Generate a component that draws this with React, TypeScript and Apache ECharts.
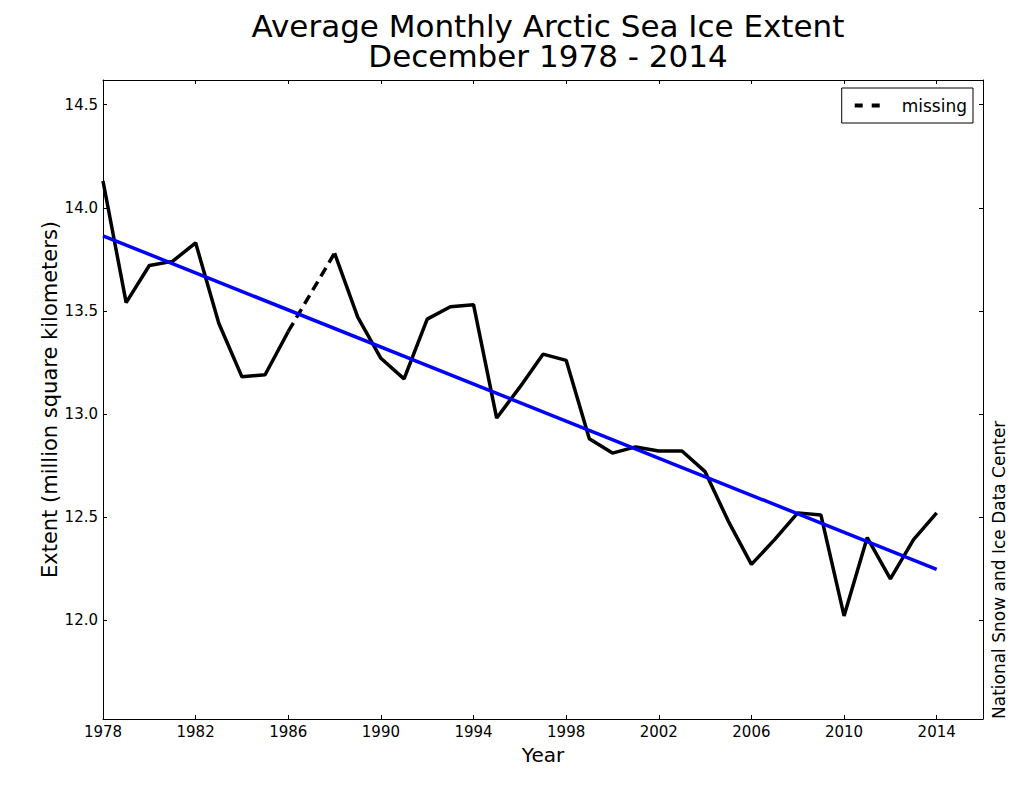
import React, { useEffect, useRef } from "react";
import * as echarts from "echarts";

const years = [
  1978, 1979, 1980, 1981, 1982, 1983, 1984, 1985, 1986, 1987, 1988, 1989, 1990,
  1991, 1992, 1993, 1994, 1995, 1996, 1997, 1998, 1999, 2000, 2001, 2002, 2003,
  2004, 2005, 2006, 2007, 2008, 2009, 2010, 2011, 2012, 2013, 2014,
];
const extent: (number | null)[] = [
  14.13, 13.54, 13.72, 13.74, 13.83, 13.44, 13.18, 13.19, 13.4, null, 13.78,
  13.47, 13.27, 13.17, 13.46, 13.52, 13.53, 12.98, 13.13, 13.29, 13.26, 12.88,
  12.81, 12.84, 12.82, 12.82, 12.72, 12.48, 12.27, 12.39, 12.52, 12.51, 12.02,
  12.4, 12.2, 12.39, 12.52,
];
const missingYears = [1986, 1988];
const trendYears = [1978, 2014];
const trendValues = [13.864, 12.246];
const xTickValues = [1978, 1982, 1986, 1990, 1994, 1998, 2002, 2006, 2010, 2014];
const yTickValues = [12.0, 12.5, 13.0, 13.5, 14.0, 14.5];

const FONT = "DejaVu Sans";

export default function App() {
  const ref = useRef<HTMLDivElement>(null);
  useEffect(() => {
    if (!ref.current) return;
    const chart = echarts.init(ref.current, null, { renderer: "svg" });
    const mainData = years.map((y, i) => [y, extent[i]]);
    const missingData = missingYears.map((y) => [y, extent[years.indexOf(y)]]);
    const trendData = trendYears.map((y, i) => [y, trendValues[i]]);
    const tickStyle = { show: true, inside: true, length: 4, lineStyle: { color: "#000", width: 1 } };
    const lineStyleAxis = { show: true, onZero: false, lineStyle: { color: "#000", width: 1 } };
    chart.setOption({
      animation: false,
      backgroundColor: "#fff",
      textStyle: { fontFamily: FONT },
      title: {
        text: "Average Monthly Arctic Sea Ice Extent\nDecember 1978 - 2014",
        left: 543,
        top: 6,
        textAlign: "center",
        textStyle: { fontFamily: FONT, fontSize: 31, fontWeight: "normal", color: "#000", lineHeight: 30 },
      },
      legend: {
        data: [{ name: "missing", icon: "path://M0,0h8v4h-8z M17,0h8v4h-8z" }],
        right: 62,
        top: 88,
        padding: [9, 6, 9, 13],
        borderColor: "#000",
        borderWidth: 1,
        borderRadius: 0,
        itemWidth: 25,
        itemHeight: 4,
        itemStyle: { color: "#000" },
        textStyle: { fontFamily: FONT, fontSize: 17, color: "#000", padding: [0, 0, 0, 17] },
      },
      grid: { left: 103, top: 80, right: 52, bottom: 81, containLabel: false, outerBoundsMode: "none" },
      xAxis: [
        {
          type: "value",
          min: 1978,
          max: 2016,
          interval: 4,
          name: "Year",
          nameLocation: "middle",
          nameGap: 26,
          nameMoveOverlap: false,
          nameTextStyle: { fontFamily: FONT, fontSize: 20, color: "#000" },
          axisLine: lineStyleAxis,
          axisTick: { ...tickStyle, customValues: xTickValues },
          axisLabel: {
            customValues: xTickValues,
            fontFamily: FONT,
            fontSize: 15,
            color: "#000",
            margin: 5,
            formatter: (v: number) => String(v),
          },
          splitLine: { show: false },
        },
        {
          type: "value",
          position: "top",
          min: 1978,
          max: 2016,
          interval: 4,
          axisLine: lineStyleAxis,
          axisTick: { ...tickStyle, customValues: xTickValues },
          axisLabel: { show: false },
          splitLine: { show: false },
        },
      ],
      yAxis: [
        {
          type: "value",
          min: 11.52,
          max: 14.62,
          name: "Extent (million square kilometers)",
          nameLocation: "middle",
          nameGap: 43,
          nameMoveOverlap: false,
          nameTextStyle: { fontFamily: FONT, fontSize: 21, color: "#000" },
          axisLine: lineStyleAxis,
          axisTick: { ...tickStyle, customValues: yTickValues },
          axisLabel: {
            customValues: yTickValues,
            fontFamily: FONT,
            fontSize: 15,
            color: "#000",
            margin: 5,
            formatter: (v: number) => v.toFixed(1),
          },
          splitLine: { show: false },
        },
        {
          type: "value",
          position: "right",
          min: 11.52,
          max: 14.62,
          axisLine: lineStyleAxis,
          axisTick: { ...tickStyle, customValues: yTickValues },
          axisLabel: { show: false },
          splitLine: { show: false },
        },
      ],
      graphic: [
        {
          type: "text",
          x: 999,
          y: 719,
          rotation: Math.PI / 2,
          style: {
            text: "National Snow and Ice Data Center",
            fontFamily: FONT,
            fontSize: 17,
            fill: "#000",
            textAlign: "left",
            textVerticalAlign: "middle",
          },
        },
      ],
      series: [
        {
          name: "extent",
          type: "line",
          data: mainData,
          showSymbol: false,
          symbol: "none",
          connectNulls: false,
          lineStyle: { color: "#000", width: 3.5 },
          z: 2,
        },
        {
          name: "missing",
          type: "line",
          data: missingData,
          showSymbol: false,
          symbol: "none",
          itemStyle: { color: "#000" },
          lineStyle: { color: "#000", width: 3.5, type: [10, 6] },
          z: 2,
        },
        {
          name: "trend",
          type: "line",
          data: trendData,
          showSymbol: false,
          symbol: "none",
          lineStyle: { color: "#0000ff", width: 3.5 },
          z: 3,
        },
      ],
    });
    return () => chart.dispose();
  }, []);
  return (
    <div
      ref={ref}
      style={{ position: "absolute", left: 0, top: 0, width: 1035, height: 800, background: "#fff" }}
    />
  );
}
